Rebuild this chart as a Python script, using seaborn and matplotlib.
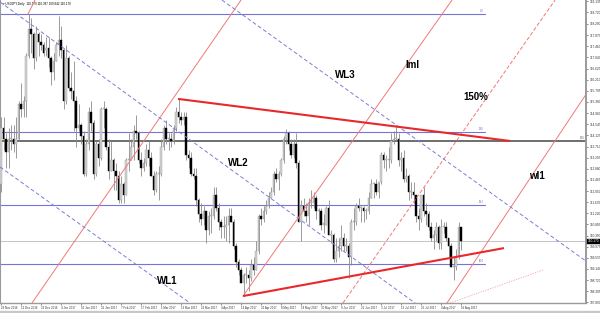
import numpy as np
import pandas as pd
import matplotlib
matplotlib.use("Agg")
import matplotlib.pyplot as plt
import seaborn as sns

sns.set_theme(style="white")
plt.rcParams['font.family'] = ['Liberation Sans', 'DejaVu Sans']

# ---------------- data (USDJPY daily) ----------------
opens = [112.3, 114.4, 114.0, 113.5, 114.0, 114.0, 113.8, 114.0, 115.3, 115.1,
         115.4, 117.1, 118.1, 117.9, 117.0, 117.9, 117.6, 117.5, 117.3, 117.4,
         117.0, 116.5, 116.9, 117.5, 117.7, 117.3, 115.4, 117.0, 115.9, 115.8,
         115.4, 114.4, 114.5, 114.1, 112.7, 113.8, 115.0, 114.6, 112.7, 113.8,
         113.3, 115.1, 115.1, 113.7, 112.8, 113.2, 112.8, 112.6, 111.7, 112.3,
         111.9, 113.2, 113.2, 113.7, 114.3, 114.2, 113.2, 112.9, 113.1, 113.6,
         113.3, 112.6, 112.1, 112.7, 112.7, 113.7, 114.4, 114.0, 114.0, 113.9,
         114.4, 115.0, 114.8, 114.7, 114.8, 113.4, 113.3, 112.7, 112.6, 111.7,
         111.2, 111.0, 111.3, 110.6, 111.1, 111.1, 111.9, 111.4, 110.9, 110.7,
         110.7, 110.8, 111.1, 110.9, 110.0, 109.4, 109.1, 108.6, 108.9, 108.9,
         108.8, 109.3, 109.1, 109.8, 111.1, 111.0, 111.3, 111.5, 111.8, 112.0,
         112.7, 112.5, 112.7, 113.2, 114.0, 114.2, 113.8, 113.4, 113.8, 113.1,
         110.9, 111.5, 111.3, 111.1, 111.6, 111.6, 111.8, 111.3, 111.3, 110.8,
         110.8, 111.4, 110.4, 110.4, 109.5, 109.8, 110.0, 110.3, 110.0, 110.0,
         109.6, 110.9, 110.9, 111.5, 111.4, 111.4, 111.3, 111.3, 111.8, 112.3,
         112.3, 112.0, 112.4, 113.4, 113.2, 113.2, 113.2, 113.9, 114.0, 114.0,
         113.2, 113.3, 112.5, 112.6, 112.0, 112.0, 111.9, 111.1, 111.0, 111.9,
         111.3, 111.2, 110.7, 110.3, 110.4, 110.7, 110.1, 110.7, 110.7, 110.3,
         110.0, 109.2, 109.2, 109.6, 110.7]
highs = [114.8, 114.8, 114.2, 114.4, 114.5, 114.5, 114.8, 115.4, 116.1, 115.6,
         117.2, 118.66, 118.5, 118.0, 118.2, 118.0, 117.9, 117.6, 117.8, 117.8,
         117.1, 117.2, 117.6, 118.6, 118.2, 117.4, 117.5, 117.1, 116.5, 116.9,
         115.6, 115.3, 114.6, 114.3, 114.0, 115.2, 115.4, 114.7, 113.9, 114.0,
         115.2, 115.4, 115.2, 114.0, 113.9, 113.3, 113.1, 112.8, 112.6, 112.4,
         113.3, 114.2, 114.0, 114.5, 114.9, 114.3, 113.5, 113.3, 113.8, 113.9,
         113.5, 112.8, 112.8, 113.0, 114.0, 114.5, 114.7, 114.2, 114.2, 114.5,
         115.2, 115.5, 115.0, 115.0, 115.0, 113.6, 113.5, 112.9, 112.9, 111.8,
         111.6, 111.5, 111.3, 111.3, 111.4, 112.2, 112.2, 111.6, 111.0, 111.1,
         111.1, 111.4, 111.4, 111.0, 110.1, 109.5, 109.2, 109.0, 109.2, 109.1,
         109.5, 109.6, 110.2, 111.2, 111.4, 111.5, 111.7, 112.0, 112.2, 112.8,
         112.9, 112.8, 113.3, 114.1, 114.37, 114.3, 114.0, 114.0, 114.2, 113.2,
         111.7, 111.8, 111.6, 111.8, 112.1, 112.0, 111.9, 111.4, 111.4, 111.2,
         111.5, 111.7, 110.6, 110.5, 110.3, 110.3, 110.8, 110.5, 110.3, 110.1,
         111.0, 111.4, 111.6, 111.8, 111.5, 111.5, 111.4, 112.0, 112.5, 112.4,
         112.5, 112.4, 113.5, 113.5, 113.4, 113.7, 114.2, 114.3, 114.49, 114.2,
         113.5, 113.6, 112.9, 112.7, 112.4, 112.4, 111.9, 111.4, 111.9, 112.2,
         111.6, 111.3, 110.9, 110.6, 110.9, 110.8, 111.0, 110.9, 110.9, 110.3,
         110.1, 109.6, 109.9, 110.9, 110.4]
lows = [112.0, 113.6, 112.9, 112.9, 113.6, 113.5, 113.3, 113.9, 114.8, 114.8,
        114.8, 117.0, 117.2, 116.6, 116.9, 117.1, 117.3, 117.1, 117.1, 116.7,
        116.0, 116.2, 116.9, 117.1, 117.0, 115.1, 115.3, 115.8, 115.5, 114.3,
        113.7, 114.3, 113.8, 112.6, 112.6, 113.6, 114.3, 112.5, 112.6, 113.0,
        113.2, 114.4, 113.6, 112.5, 112.8, 112.1, 112.1, 111.6, 111.6, 111.6,
        111.9, 112.8, 113.2, 113.2, 114.0, 113.1, 112.6, 112.8, 113.0, 113.0,
        112.6, 111.9, 112.0, 111.7, 112.6, 113.6, 113.8, 113.6, 113.7, 113.8,
        114.3, 114.6, 114.5, 114.5, 113.2, 112.9, 112.6, 112.5, 111.5, 110.9,
        110.8, 110.8, 110.1, 110.4, 110.5, 111.0, 111.3, 110.6, 110.3, 110.3,
        110.2, 110.1, 110.9, 109.9, 109.2, 108.9, 108.6, 108.13, 108.6, 108.3,
        108.7, 108.9, 109.1, 109.7, 110.8, 110.9, 111.2, 111.4, 111.8, 111.9,
        112.4, 112.1, 112.6, 113.1, 113.8, 113.6, 113.3, 113.3, 112.9, 110.9,
        110.2, 111.1, 110.9, 110.8, 111.4, 111.4, 111.0, 110.8, 110.6, 110.5,
        110.8, 110.4, 110.1, 109.4, 109.4, 109.6, 109.8, 109.8, 109.8, 108.8,
        109.3, 110.6, 110.8, 111.3, 110.9, 110.9, 111.0, 111.2, 111.8, 111.8,
        111.9, 111.8, 112.3, 112.9, 112.8, 112.9, 113.1, 113.8, 113.9, 113.0,
        112.8, 112.4, 112.4, 111.7, 111.8, 111.6, 110.9, 110.6, 110.9, 111.1,
        110.8, 110.6, 110.2, 109.9, 110.2, 109.9, 109.9, 110.5, 110.2, 109.6,
        109.2, 108.73, 109.1, 109.5, 109.84]
closes = [114.4, 114.0, 113.5, 114.0, 114.0, 113.8, 114.0, 115.3, 115.1, 115.4,
          117.1, 118.1, 117.9, 117.0, 117.9, 117.6, 117.5, 117.2, 117.4, 117.0,
          116.5, 116.9, 117.5, 117.7, 117.3, 115.4, 117.0, 115.9, 115.8, 115.4,
          114.4, 114.5, 114.1, 112.7, 113.8, 115.0, 114.6, 112.7, 113.8, 113.3,
          115.1, 115.1, 113.7, 112.8, 113.2, 112.8, 112.6, 111.7, 112.3, 111.9,
          113.2, 113.2, 113.7, 114.3, 114.2, 113.2, 112.9, 113.1, 113.6, 113.3,
          112.6, 112.1, 112.7, 112.7, 113.7, 114.4, 114.0, 114.0, 113.9, 114.4,
          115.0, 114.8, 114.7, 114.8, 113.4, 113.3, 112.7, 112.6, 111.7, 111.2,
          111.0, 111.3, 110.6, 111.1, 111.1, 111.9, 111.4, 110.9, 110.7, 110.7,
          110.8, 111.1, 110.9, 110.0, 109.4, 109.1, 108.6, 108.9, 108.9, 108.8,
          109.3, 109.1, 109.8, 111.1, 111.0, 111.3, 111.5, 111.8, 112.0, 112.7,
          112.5, 112.7, 113.2, 114.0, 114.2, 113.8, 113.4, 113.8, 113.1, 110.9,
          111.5, 111.3, 111.1, 111.6, 111.6, 111.8, 111.3, 111.3, 110.8, 110.8,
          111.4, 110.4, 110.4, 109.5, 109.8, 110.0, 110.3, 110.0, 110.0, 109.6,
          110.9, 110.9, 111.5, 111.4, 111.4, 111.3, 111.3, 111.8, 112.3, 112.3,
          112.0, 112.4, 113.4, 113.2, 113.2, 113.2, 113.9, 114.0, 114.0, 113.2,
          113.3, 112.5, 112.6, 112.0, 112.0, 111.9, 111.1, 111.0, 111.9, 111.3,
          111.2, 110.7, 110.3, 110.4, 110.7, 110.1, 110.7, 110.7, 110.3, 110.0,
          109.2, 109.2, 109.6, 110.7, 110.17]

date_labels = ["29 Nov 2016", "12 Dec 2016", "22 Dec 2016", "4 Jan 2017", "16 Jan 2017",
               "26 Jan 2017", "7 Feb 2017", "17 Feb 2017", "1 Mar 2017", "13 Mar 2017",
               "23 Mar 2017", "4 Apr 2017", "14 Apr 2017", "26 Apr 2017", "8 May 2017",
               "18 May 2017", "30 May 2017", "9 Jun 2017", "21 Jun 2017", "3 Jul 2017",
               "13 Jul 2017", "25 Jul 2017", "4 Aug 2017", "16 Aug 2017"]
price_labels = ["107.890", "108.305", "108.720", "109.140", "109.555", "109.975", "110.390",
                "110.805", "111.220", "111.635", "112.050", "112.465", "112.880", "113.295",
                "113.710", "114.125", "114.545", "114.960", "115.380", "115.795", "116.210",
                "116.625", "117.040", "117.460", "117.875", "118.290", "118.720", "119.135"]
last_price = 110.170

fib_prices = [118.66, 114.25, 111.53, 109.32]
fib_names = ["0.0", "23.6", "38.2", "50.0"]
key_level = 113.92
key_level_name = "23.6"

# trend lines: (bar0, price0, bar1, price1)
red_thick_lines = [(70.8, 115.49, 203.6, 113.92), (96.8, 108.13, 201.2, 109.92)]
red_thin_lines = [(12.4, 107.87, 96.0, 119.18), (96.8, 108.13, 180.4, 119.18),
                  (178.4, 107.87, 240.0, 116.50), (10.8, 118.66, 13.6, 119.18)]
red_dashed_lines = [(136.8, 107.87, 221.6, 119.18)]
red_dotted_lines = [(179.6, 107.87, 216.8, 109.10)]
blue_dashed_lines = [(-0.4, 119.11, 165.6, 107.87), (88.4, 119.18, 236.0, 109.30),
                     (-0.4, 112.95, 75.6, 107.87)]
line_labels = [("WL3", 137.6, 116.38), ("lml", 164.4, 116.76), ("150%", 190.0, 115.56),
               ("WL2", 94.8, 113.10), ("wl1", 214.4, 112.61), ("WL1", 66.4, 108.69)]

# ---------------- figure ----------------
W, H = 600, 313
fig = plt.figure(figsize=(W / 100, H / 100), dpi=100)
fig.patch.set_facecolor("white")
ax = fig.add_axes([0.0, 10 / H, 586 / W, 303 / H])
ax.set_facecolor("white")

df = pd.DataFrame({"open": opens, "high": highs, "low": lows, "close": closes})
df["bar"] = np.arange(len(df))
up = df["close"] >= df["open"]

# wicks
ax.vlines(df["bar"], df["low"], df["high"], color="#8a8a8a", lw=0.6, zorder=3)
# bodies
body_bottom = df[["open", "close"]].min(axis=1)
body_h = (df["close"] - df["open"]).abs().clip(lower=0.04)
ax.bar(df["bar"][up], body_h[up], bottom=body_bottom[up], width=0.66,
       color="#d4d4d4", edgecolor="#9a9a9a", linewidth=0.3, zorder=4)
ax.bar(df["bar"][~up], body_h[~up], bottom=body_bottom[~up], width=0.66,
       color="#000000", edgecolor="#000000", linewidth=0.3, zorder=4)

# horizontal levels
blue = "#7474d8"
for p, name in zip(fib_prices, fib_names):
    sns.lineplot(x=[-0.4, 193.6], y=[p, p], ax=ax, color=blue, lw=0.8, zorder=2)
    ax.text(193.2, p + 0.03, name, fontsize=1.8, color="#6060b0", ha="right", va="bottom")
ax.axhline(key_level, color="#555555", lw=1.2, zorder=2)
ax.text(233.5, key_level + 0.03, key_level_name, fontsize=1.8, color="#505050",
        ha="right", va="bottom")
ax.axhline(last_price, color="#c4c4c4", lw=0.7, zorder=1)

# trend lines
for x0, y0, x1, y1 in red_thick_lines:
    ax.plot([x0, x1], [y0, y1], color="#e8282a", lw=1.5, zorder=6, solid_capstyle="butt")
for x0, y0, x1, y1 in red_thin_lines:
    ax.plot([x0, x1], [y0, y1], color="#f07878", lw=0.7, zorder=5)
for x0, y0, x1, y1 in red_dashed_lines:
    ax.plot([x0, x1], [y0, y1], color="#f07878", lw=0.7, ls=(0, (4, 2)), zorder=5)
for x0, y0, x1, y1 in red_dotted_lines:
    ax.plot([x0, x1], [y0, y1], color="#f4a0a0", lw=0.6, ls=(0, (1.5, 1.5)), zorder=5)
for x0, y0, x1, y1 in blue_dashed_lines:
    ax.plot([x0, x1], [y0, y1], color="#7c7cd8", lw=0.7, ls=(0, (4, 2.5)), zorder=5)
for name, x, y in line_labels:
    ax.text(x, y, name, fontsize=7, fontweight="bold", color="black",
            ha="center", va="center", zorder=7)

# title
ax.text(0.005, 0.995, "\u25be USDJPY,Daily  110.179 110.387 109.842 110.170",
        transform=ax.transAxes, fontsize=2.2, color="black", ha="left", va="top")

# axes
ax.set_xlim(-0.4, 234.0)
ax.set_ylim(107.87, 119.183)
ax.yaxis.tick_right()
ax.set_yticks([float(s) for s in price_labels])
ax.set_yticklabels(price_labels)
ax.set_xticks(np.arange(0, len(opens), 8))
ax.set_xticklabels(date_labels, ha="left")
ax.tick_params(axis="y", which="both", right=True, length=1.5, width=0.4, pad=1,
               labelsize=2.3, colors="#333333")
ax.tick_params(axis="x", which="both", bottom=True, length=1.5, width=0.4, pad=0.6,
               labelsize=2.1, colors="#333333")
for lab in ax.get_xticklabels():
    lab.set_horizontalalignment("left")
ax.grid(False)
ax.spines["top"].set_visible(False)
ax.spines["left"].set_color("#9a9a9a")
ax.spines["left"].set_linewidth(0.8)
ax.spines["right"].set_color("#9a9a9a")
ax.spines["right"].set_linewidth(1.4)
ax.spines["bottom"].set_color("#9a9a9a")
ax.spines["bottom"].set_linewidth(1.0)

# current price marker
ax.text(1.003, last_price, f"{last_price:.3f}", transform=ax.get_yaxis_transform(),
        fontsize=2.3, color="white", ha="left", va="center",
        bbox=dict(boxstyle="square,pad=0.25", fc="black", ec="black", lw=0.3), zorder=10,
        clip_on=False)

# scrollbar strip at bottom
fig.patches.append(plt.Rectangle((0, 0), 1, 2.5 / H, transform=fig.transFigure,
                                 color="#c8c8c8", zorder=0))

fig.savefig("out.png", dpi=100)
